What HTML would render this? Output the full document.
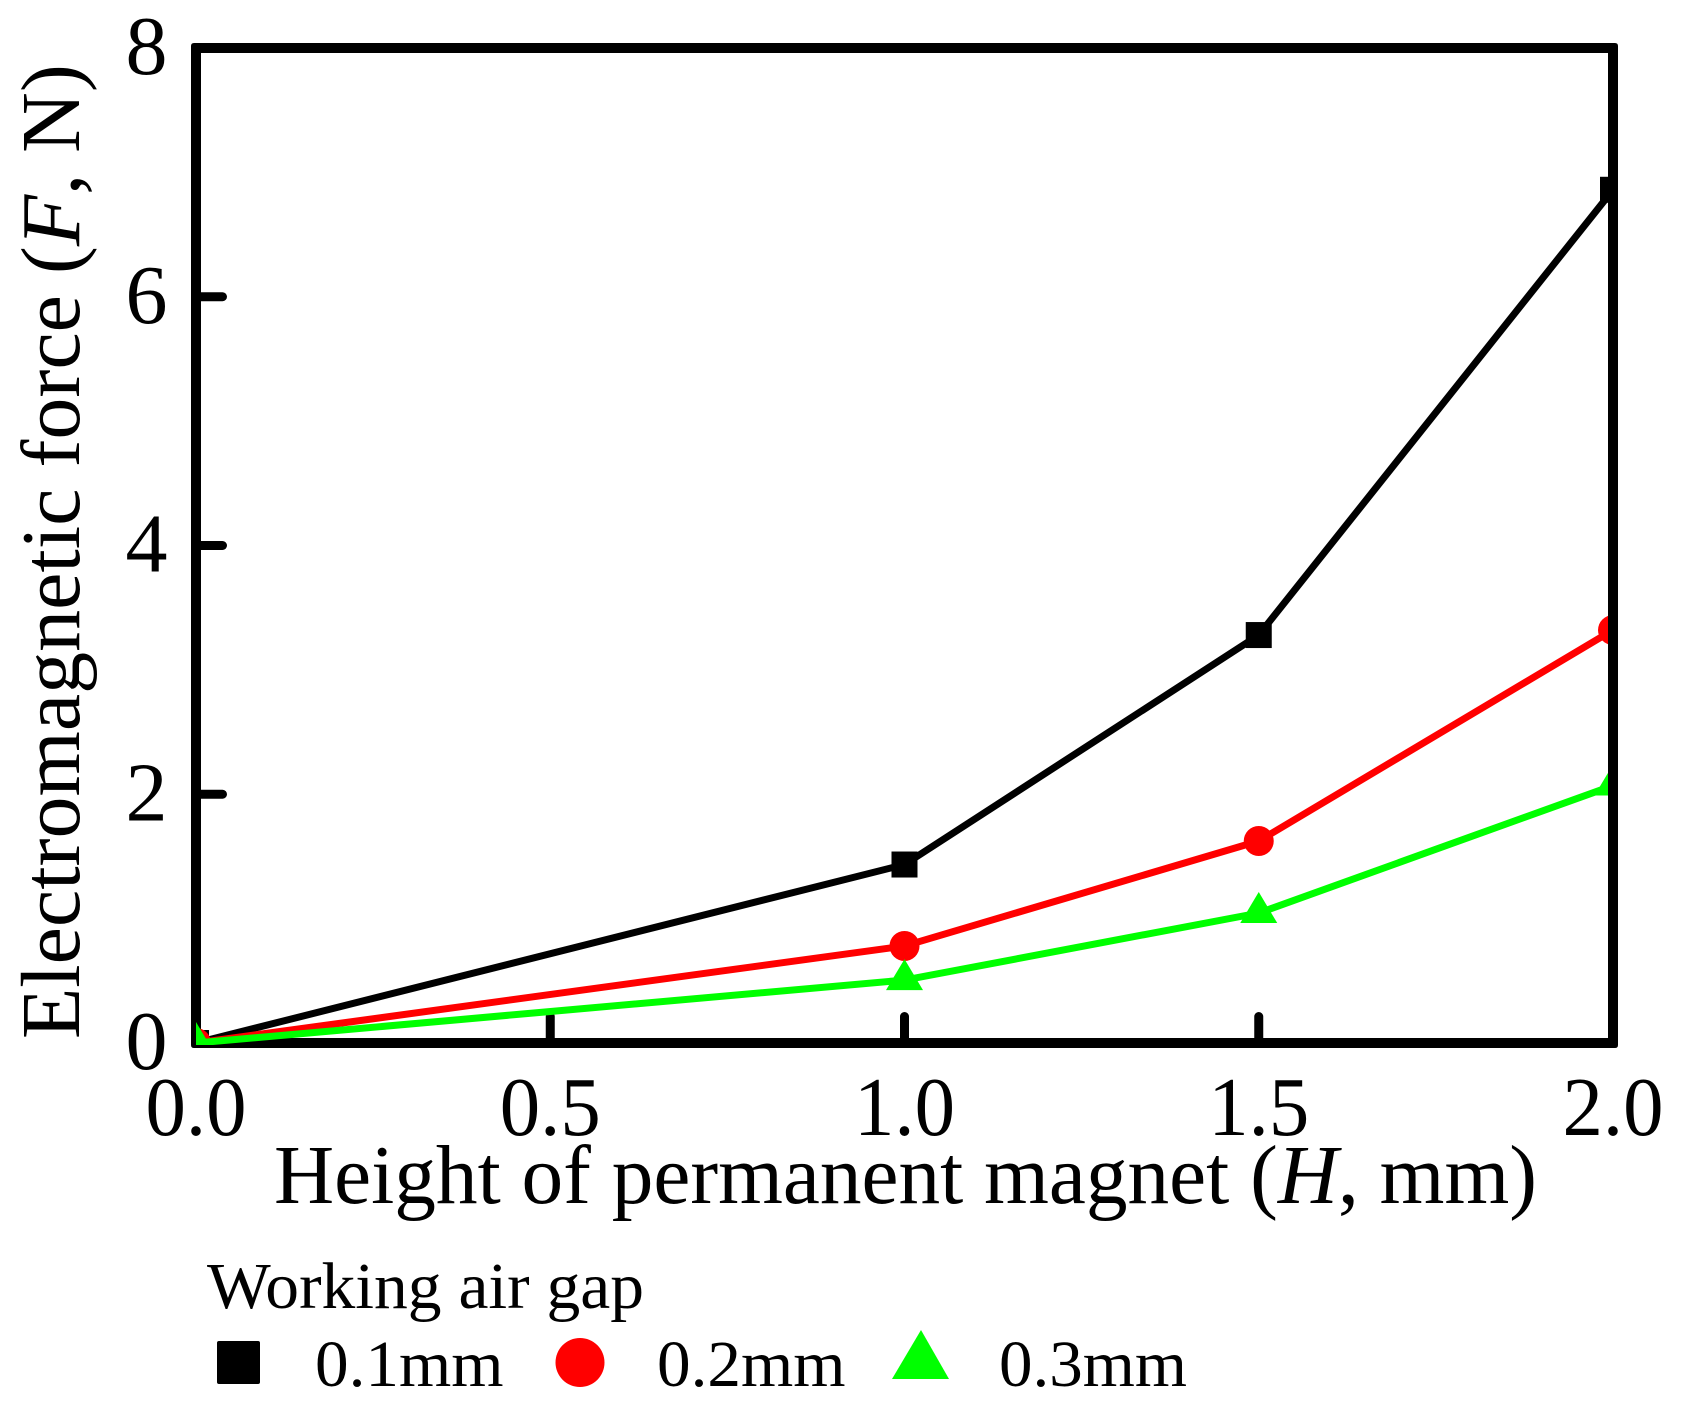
<!DOCTYPE html>
<html>
<head>
<meta charset="utf-8">
<title>Electromagnetic force vs height of permanent magnet</title>
<style>
html,body{margin:0;padding:0;background:#fff;}
svg{display:block;}
text{font-family:"Liberation Serif",serif;fill:#000;}
</style>
</head>
<body>
<svg id="chart" xmlns="http://www.w3.org/2000/svg" width="1682" height="1417" viewBox="0 0 1682 1417">
<rect x="0" y="0" width="1682" height="1417" fill="#fff"/>
<defs><clipPath id="plot-clip"><rect x="196" y="48" width="1412" height="997"/></clipPath></defs>
<g id="ticks"></g>
<path fill="#000" fill-rule="evenodd" d="M194 43H1615Q1618 43 1618 46V1045Q1618 1048 1615 1048H194Q191 1048 191 1045V46Q191 43 194 43ZM201 53V1038H1608V53Z"/>
<g id="tick-labels" font-size="84"></g>
<g id="series" clip-path="url(#plot-clip)"></g>
<text x="274" y="1203" font-size="84" textLength="1263" lengthAdjust="spacingAndGlyphs">Height of permanent magnet (<tspan font-style="italic">H</tspan>, mm)</text>
<text transform="translate(79,1039) rotate(-90)" font-size="84">Electromagnetic force (<tspan font-style="italic">F</tspan>, N)</text>
<g>
<text x="207" y="1308" font-size="66" textLength="437" lengthAdjust="spacingAndGlyphs">Working air gap</text>
<rect x="217" y="1341" width="43" height="43" rx="2" fill="#000"/>
<text x="315" y="1386" font-size="66" textLength="188.5" lengthAdjust="spacingAndGlyphs">0.1mm</text>
<circle cx="580" cy="1362.5" r="24.5" fill="#f00"/>
<text x="657" y="1386" font-size="66" textLength="188.5" lengthAdjust="spacingAndGlyphs">0.2mm</text>
<polygon points="921,1330 949,1379 892,1379" fill="#0f0"/>
<text x="999" y="1386" font-size="66" textLength="188" lengthAdjust="spacingAndGlyphs">0.3mm</text>
</g>
</svg>
<script>
const categories = [0, 1.0, 1.5, 2.0];
const gap01 = [0, 1.435, 3.28, 6.86];
const gap02 = [0, 0.78, 1.624, 3.32];
const gap03 = [0, 0.506, 1.045, 2.07];
const xTickValues = [0, 0.5, 1.0, 1.5, 2.0];
const xTickLabels = ["0.0", "0.5", "1.0", "1.5", "2.0"];
const yTickValues = [0, 2, 4, 6, 8];
const yTickLabels = ["0", "2", "4", "6", "8"];

const NS = "http://www.w3.org/2000/svg";
function xPos(v) { return 196 + v * (1417 / 2); }
function yPos(v) { return 1043 - v * (995 / 8); }
function make(tag, attrs, parent) {
  const el = document.createElementNS(NS, tag);
  for (const k in attrs) el.setAttribute(k, attrs[k]);
  parent.appendChild(el);
  return el;
}

const ticksG = document.getElementById("ticks");
const labelsG = document.getElementById("tick-labels");
const seriesG = document.getElementById("series");

xTickValues.forEach(function (v, i) {
  if (v > 0 && v < 2) {
    const t = make("line", { x1: xPos(v), x2: xPos(v), y1: 1043, y2: 1016.5, stroke: "#000", "stroke-width": 9, "stroke-linecap": "round" }, ticksG);
    
    
  }
  const l = make("text", { x: xPos(v), y: 1135, "text-anchor": "middle", textLength: 101, lengthAdjust: "spacingAndGlyphs" }, labelsG);
  l.textContent = xTickLabels[i];
  
  
});

yTickValues.forEach(function (v, i) {
  if (v > 0 && v < 8) {
    const t = make("line", { x1: 196, x2: 222.5, y1: yPos(v), y2: yPos(v), stroke: "#000", "stroke-width": 9, "stroke-linecap": "round" }, ticksG);
    
    
  }
  const l = make("text", { x: 146.5, y: yPos(v) + 26, "text-anchor": "middle" }, labelsG);
  l.textContent = yTickLabels[i];
  
  
});

function drawLine(values, color, name) {
  const pts = values.map(function (v, i) { return xPos(categories[i]) + "," + yPos(v); }).join(" ");
  const p = make("polyline", { points: pts, fill: "none", stroke: color, "stroke-width": 7, "stroke-linejoin": "miter" }, seriesG);
  
  
}

drawLine(gap01, "#000", "line-0-1mm");
gap01.forEach(function (v, i) {
  const m = make("rect", { x: xPos(categories[i]) - 13, y: yPos(v) - 13, width: 26, height: 26, fill: "#000" }, seriesG);
  
  
});

drawLine(gap02, "#f00", "line-0-2mm");
gap02.forEach(function (v, i) {
  const m = make("circle", { cx: xPos(categories[i]), cy: yPos(v), r: 15, fill: "#f00" }, seriesG);
  
  
});

drawLine(gap03, "#0f0", "line-0-3mm");
gap03.forEach(function (v, i) {
  const cx = xPos(categories[i]);
  const cy = yPos(v);
  const m = make("polygon", { points: cx + "," + (cy - 21) + " " + (cx + 18.5) + "," + (cy + 10) + " " + (cx - 18.5) + "," + (cy + 10), fill: "#0f0" }, seriesG);
  
  
});
</script>
</body>
</html>
